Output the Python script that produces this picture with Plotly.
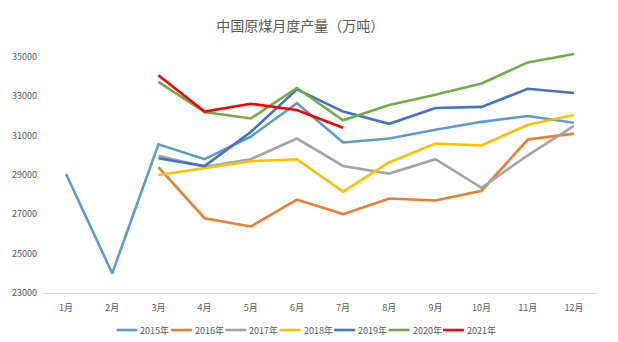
import plotly.graph_objects as go

months = ["1月", "2月", "3月", "4月", "5月", "6月", "7月", "8月", "9月", "10月", "11月", "12月"]

y2015 = [29050, 24000, 30560, 29800, 30950, 32650, 30650, 30850, 31300, 31700, 32000, 31650]
y2016 = [None, None, 29400, 26800, 26380, 27750, 27010, 27800, 27700, 28200, 30800, 31100]
y2017 = [None, None, 29980, 29420, 29800, 30850, 29460, 29070, 29800, 28350, 30000, 31500]
y2018 = [None, None, 29000, 29350, 29700, 29800, 28150, 29650, 30600, 30500, 31550, 32050]
y2019 = [None, None, 29850, 29450, 31180, 33350, 32220, 31600, 32400, 32460, 33380, 33170]
y2020 = [None, None, 33730, 32200, 31870, 33420, 31780, 32560, 33080, 33650, 34720, 35150]
y2021 = [None, None, 34070, 32220, 32620, 32300, 31400, None, None, None, None, None]

series = [
    ("2015年", y2015, "#5B9BD5"),
    ("2016年", y2016, "#ED7D31"),
    ("2017年", y2017, "#A5A5A5"),
    ("2018年", y2018, "#FFC000"),
    ("2019年", y2019, "#4472C4"),
    ("2020年", y2020, "#70AD47"),
    ("2021年", y2021, "#FF0000"),
]

y_ticks = [23000, 25000, 27000, 29000, 31000, 33000, 35000]

FONT = "Noto Sans CJK SC, Microsoft YaHei, sans-serif"
W, H = 618, 342
ML, MR, MT, MB = 40, 21, 52, 49

fig = go.Figure()
for name, vals, color in series:
    fig.add_trace(go.Scatter(
        x=months, y=vals, name=name, mode="lines",
        line=dict(color=color, width=2.6),
        connectgaps=False,
    ))

# custom compact legend (Excel style), below the plot
leg_x0, leg_step, leg_line, leg_y = 114, 54.7, 21, 330
pw, ph = W - ML - MR, H - MT - MB
for i, (name, vals, color) in enumerate(series):
    x0 = leg_x0 + i * leg_step
    yy = (H - MB - leg_y) / ph
    fig.add_shape(type="line", xref="paper", yref="paper",
                  x0=(x0 - ML) / pw, x1=(x0 + leg_line - ML) / pw,
                  y0=yy, y1=yy, line=dict(color=color, width=2.6))
    fig.add_annotation(text=name, xref="paper", yref="paper",
                       x=(x0 + leg_line + 1 - ML) / pw, xanchor="left",
                       y=yy, yanchor="middle",
                       showarrow=False, font=dict(family=FONT, size=9, color="#595959"))

fig.update_layout(
    width=W, height=H,
    margin=dict(l=ML, r=MR, t=MT, b=MB),
    paper_bgcolor="white", plot_bgcolor="white",
    title=dict(
        text="中国原煤月度产量（万吨）",
        x=0.486, xanchor="center", y=0.925, yanchor="middle",
        font=dict(family=FONT, size=14, color="#595959"),
    ),
    font=dict(family=FONT, size=9, color="#595959"),
    showlegend=False,
    xaxis=dict(
        type="category", range=[-0.5, 11.5], showgrid=False, zeroline=False,
        showline=True, linecolor="#D9D9D9", linewidth=1,
        ticks="", tickfont=dict(family=FONT, size=9, color="#595959"),
        ticklabelstandoff=6, tickangle=0,
    ),
    yaxis=dict(
        range=[23000, 35250], tickvals=y_ticks, ticktext=[str(v) for v in y_ticks],
        showgrid=False, zeroline=False, showline=False, ticks="",
        tickfont=dict(family=FONT, size=9, color="#595959"),
        ticklabelstandoff=5,
    ),
)

fig.write_html("out.html")
